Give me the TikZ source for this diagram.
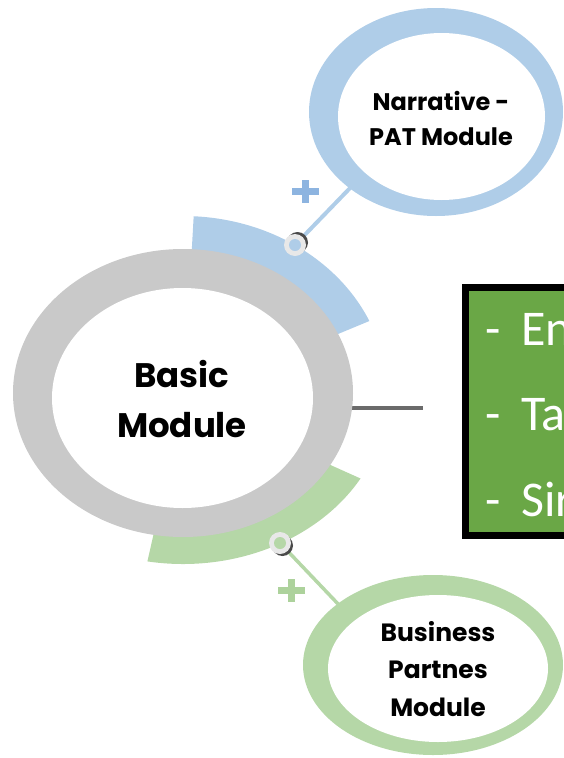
\documentclass[tikz,border=0pt]{standalone}
\usepackage{fontspec}
\usetikzlibrary{calc}
\newfontfamily\calib{Carlito}
\newfontfamily\gothic{Poppins}
\newcommand\gothicbold{\gothic\bfseries}

\definecolor{ringgray}{HTML}{C9C9C9}
\definecolor{ringblue}{HTML}{AFCDE8}
\definecolor{ringgreen}{HTML}{B5D7A7}
\definecolor{plusblue}{HTML}{8DB4E0}
\definecolor{plusgreen}{HTML}{ADD29C}
\definecolor{boxgreen}{HTML}{6AA746}
\definecolor{linegray}{HTML}{6B6B6B}
\definecolor{knobring}{HTML}{E8E8E8}
\definecolor{knobshadow}{HTML}{4A4A4A}

\tikzset{
  plussign/.pic={
    \fill (-13.5,-3.5) rectangle (13.5,3.5);
    \fill (-3.5,-11.5) rectangle (3.5,11.5);
  },
  modlabel/.style={inner sep=0pt, align=center, text=black},
  listline/.style={inner sep=0pt, anchor=base west, text=white,
    font=\calib\fontsize{50}{60}\selectfont},
}

\begin{document}
\begin{tikzpicture}[x=1pt,y=-1pt]
\useasboundingbox (0,0) rectangle (564,758);
\clip (0,0) rectangle (564,758);

% anchor points of the connectors
\coordinate (knobN) at (295,245);
\coordinate (narrIn) at (352,186);
\coordinate (knobB) at (280,543);
\coordinate (busIn) at (340,606);
\coordinate (basicE) at (345,408);
\coordinate (listW) at (423,408);

% coloured bands around the basic module
\fill[ringblue] ([shift={(183,393)}]-87:204 and 177)
  arc[start angle=-87,end angle=-24,x radius=204,y radius=177]
  -- ([shift={(183,393)}]-24:160 and 136)
  arc[start angle=-24,end angle=-87,x radius=160,y radius=136] -- cycle;
\fill[ringgreen] ([shift={(183,393)}]100:205 and 171)
  arc[start angle=100,end angle=30,x radius=205,y radius=171]
  -- ([shift={(183,393)}]30:160 and 136)
  arc[start angle=30,end angle=100,x radius=160,y radius=136] -- cycle;

% connectors
\draw[linegray, line width=4pt] (basicE) -- (listW);
\draw[ringblue, line width=4pt] (knobN) -- (narrIn);
\draw[ringgreen, line width=3.5pt] (knobB) -- (busIn);

% basic module ring
\fill[ringgray] (183,393) ellipse[x radius=170, y radius=144];
\fill[white] (182.5,398) ellipse[x radius=130.5, y radius=110];

% narrative ring
\fill[ringblue] (436,112) ellipse[x radius=127, y radius=104];
\fill[white] (441.5,116.5) ellipse[x radius=103.5, y radius=83.5];

% business ring
\fill[ringgreen] (433,665) ellipse[x radius=130, y radius=90];
\fill[white] (438,668.5) ellipse[x radius=110, y radius=73.5];

% knobs
\fill[knobshadow] ($(knobN)+(2.5,-2.5)$) circle[radius=10.5];
\fill[knobring] (knobN) circle[radius=11];
\fill[ringblue] (knobN) circle[radius=6];
\fill[knobshadow] ($(knobB)+(2.5,2.5)$) circle[radius=10.5];
\fill[knobring] (knobB) circle[radius=11];
\fill[ringgreen] (knobB) circle[radius=6];

% plus signs
\pic[color=plusblue] at (305,191) {plussign};
\pic[color=plusgreen] at (291,590) {plussign};

% list box
\draw[black, line width=7pt, fill=boxgreen] (465.5,287.5) rectangle (620,535.5);
\node[listline] (l1) at (485,345) {-\hspace{20.7pt}En};
\node[listline] (l2) at (485,430) {-\hspace{20.7pt}Ta};
\node[listline] (l3) at (485,516) {-\hspace{20.7pt}Sir};

% module labels
\node[modlabel, font=\gothicbold\fontsize{34}{50}\selectfont] (basic) at (182,399) {Basic\\Module};
\node[modlabel, font=\gothicbold\fontsize{24}{35}\selectfont] (narr) at (441,118) {Narrative -\\PAT Module};
\node[modlabel, font=\gothicbold\fontsize{25}{37.5}\selectfont] (bus) at (438,669) {Business\\Partnes\\Module};
\end{tikzpicture}
\end{document}
